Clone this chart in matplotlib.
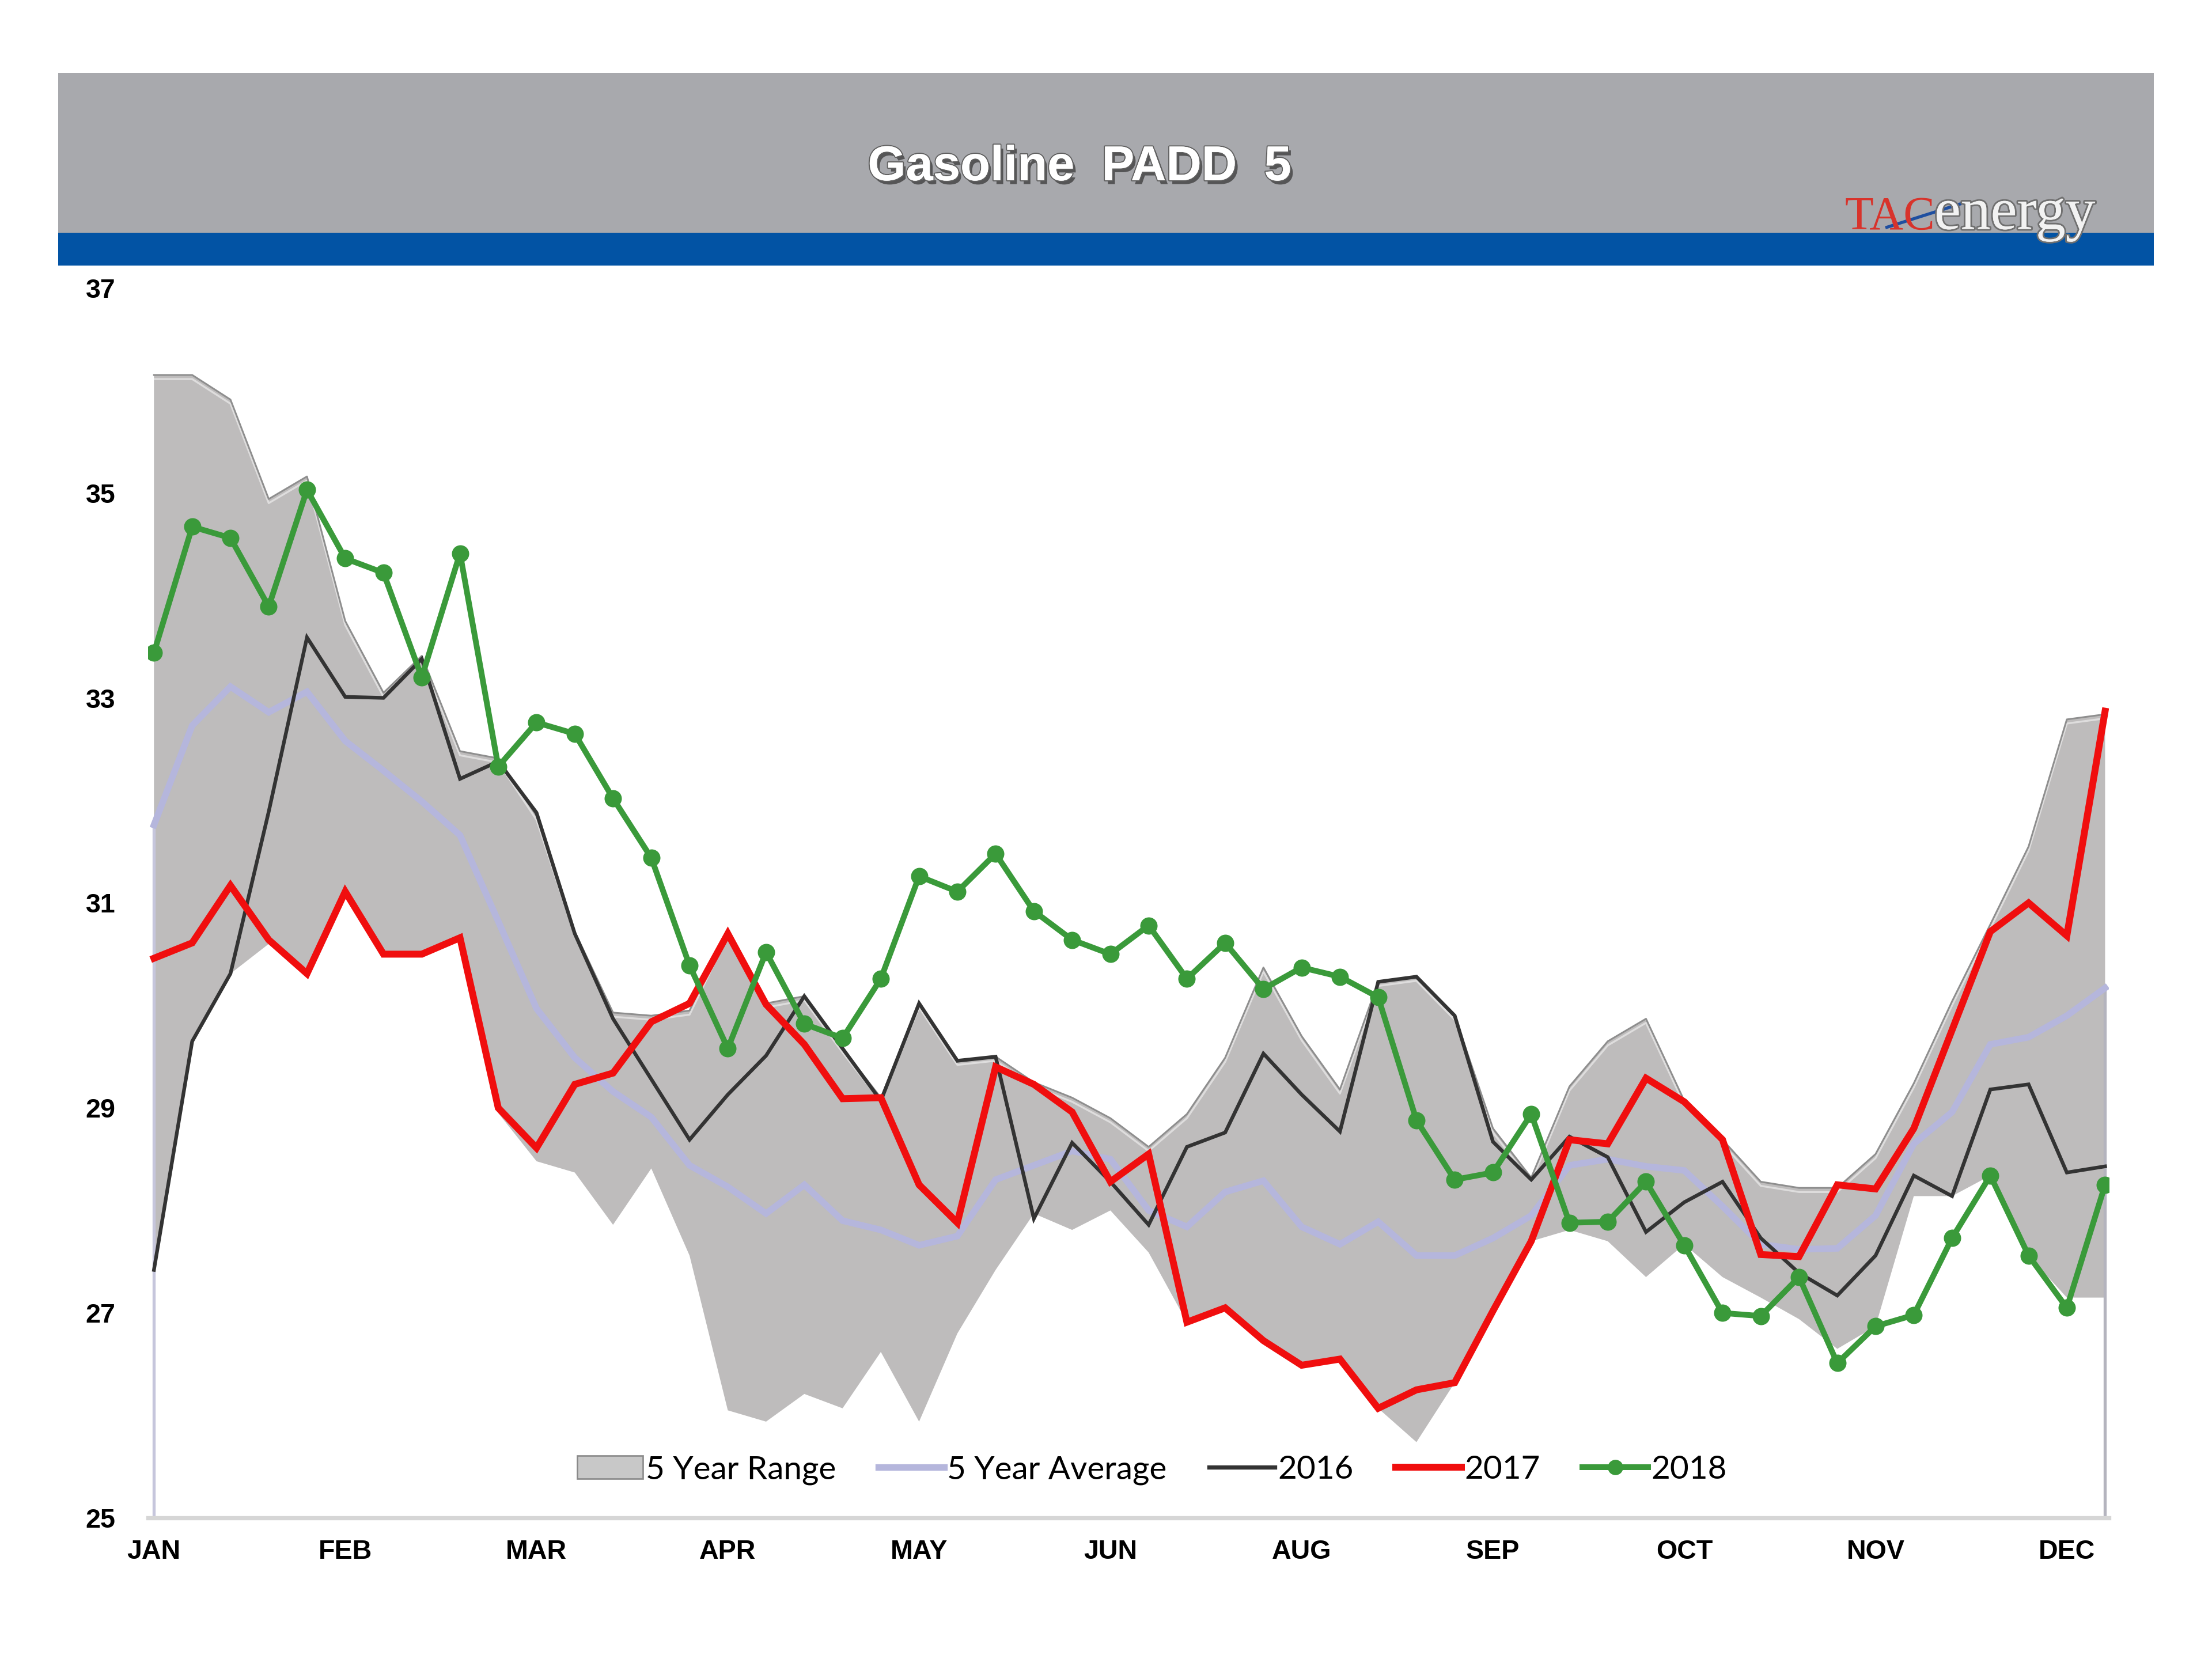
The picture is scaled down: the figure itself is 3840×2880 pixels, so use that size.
import matplotlib.pyplot as plt
import matplotlib.patheffects as pe
from matplotlib.patches import Rectangle, Patch
from matplotlib.lines import Line2D
import numpy as np

# weekly values, 52 weeks
range_upper = [36.15, 36.15, 35.91, 34.94, 35.16, 33.75, 33.05, 33.41, 32.48, 32.41,
               31.85, 30.72, 29.93, 29.90, 29.95, 30.72, 30.02, 30.09, 29.58, 29.10,
               30.02, 29.46, 29.50, 29.25, 29.10, 28.90, 28.62, 28.94, 29.49, 30.37,
               29.70, 29.18, 30.23, 30.28, 29.90, 28.80, 28.32, 29.21, 29.65, 29.87,
               29.07, 28.69, 28.28, 28.22, 28.22, 28.55, 29.24, 30.04, 30.79, 31.55,
               32.79, 32.84]
range_lower = [27.42, 29.65, 30.31, 30.60, 30.31, 31.11, 30.50, 30.50, 30.66, 28.95,
               28.48, 28.37, 27.86, 28.41, 27.56, 26.05, 25.94, 26.21, 26.07, 26.62,
               25.94, 26.80, 27.42, 27.97, 27.81, 28.00, 27.59, 26.91, 27.05, 26.73,
               26.49, 26.55, 26.07, 25.74, 26.32, 27.02, 27.70, 27.81, 27.70, 27.35,
               27.67, 27.35, 27.15, 26.94, 26.65, 26.87, 28.14, 28.14, 28.34, 27.56,
               27.15, 27.15]
avg_5yr = [31.76, 32.73, 33.11, 32.86, 33.06, 32.58, 32.29, 31.99, 31.66, 30.82,
           29.97, 29.49, 29.16, 28.91, 28.44, 28.23, 27.97, 28.25, 27.90, 27.81,
           27.66, 27.75, 28.30, 28.44, 28.58, 28.50, 28.00, 27.84, 28.18, 28.29,
           27.84, 27.67, 27.89, 27.56, 27.56, 27.73, 27.95, 28.44, 28.50, 28.43,
           28.39, 28.04, 27.67, 27.62, 27.63, 27.95, 28.65, 28.96, 29.62, 29.69,
           29.90, 30.17]
y2016 = [27.42, 29.65, 30.31, 31.89, 33.59, 33.01, 33.00, 33.38, 32.21, 32.38,
         31.88, 30.70, 29.87, 29.28, 28.69, 29.13, 29.51, 30.09, 29.58, 29.07,
         30.02, 29.46, 29.50, 27.92, 28.66, 28.28, 27.86, 28.62, 28.76, 29.53,
         29.13, 28.77, 30.23, 30.28, 29.90, 28.67, 28.30, 28.72, 28.52, 27.79,
         28.08, 28.28, 27.73, 27.39, 27.17, 27.56, 28.34, 28.14, 29.18, 29.23,
         28.37, 28.43]
y2017 = [30.46, 30.61, 31.17, 30.64, 30.31, 31.11, 30.50, 30.50, 30.66, 29.00,
         28.61, 29.23, 29.34, 29.84, 30.02, 30.70, 30.01, 29.62, 29.09, 29.10,
         28.25, 27.88, 29.40, 29.23, 28.96, 28.28, 28.55, 26.91, 27.05, 26.73,
         26.49, 26.55, 26.07, 26.25, 26.32, 27.02, 27.70, 28.69, 28.65, 29.29,
         29.06, 28.69, 27.57, 27.55, 28.25, 28.21, 28.80, 29.76, 30.72, 31.00,
         30.68, 32.87]
y2018 = [33.44, 34.67, 34.56, 33.89, 35.03, 34.36, 34.22, 33.20, 34.41, 32.33,
         32.76, 32.65, 32.02, 31.44, 30.39, 29.58, 30.52, 29.82, 29.68, 30.26,
         31.26, 31.11, 31.48, 30.92, 30.64, 30.50, 30.78, 30.26, 30.61, 30.16,
         30.37, 30.28, 30.08, 28.88, 28.30, 28.37, 28.94, 27.88, 27.89, 28.28,
         27.66, 27.00, 26.97, 27.35, 26.51, 26.87, 26.98, 27.73, 28.34, 27.56,
         27.05, 28.25]
month_labels = ['JAN', 'FEB', 'MAR', 'APR', 'MAY', 'JUN', 'AUG', 'SEP', 'OCT', 'NOV', 'DEC']
y_ticks = [25, 27, 29, 31, 33, 35, 37]

weeks = np.arange(len(y2018))

fig = plt.figure(figsize=(16, 12), dpi=240)
fig.patch.set_facecolor('white')

# header bands
fig.patches.append(Rectangle((0.0262, 0.8597), 0.9476, 0.0961, transform=fig.transFigure,
                             facecolor='#a8a9ad', edgecolor='none', zorder=0))
fig.patches.append(Rectangle((0.0262, 0.8401), 0.9476, 0.0196, transform=fig.transFigure,
                             facecolor='#0253a4', edgecolor='none', zorder=0))
fig.text(0.488, 0.899, 'Gasoline  PADD  5', color='white', fontsize=25.5, fontweight='bold',
         family='Liberation Sans', ha='center', va='center',
         path_effects=[pe.withSimplePatchShadow(offset=(1.5, -2), shadow_rgbFace='#404040', alpha=0.8),
                       pe.withStroke(linewidth=1.2, foreground='#606060'), pe.Normal()])
# logo
fig.text(0.834, 0.862, 'TAC', color='#d8332b', fontsize=24.5, family='Liberation Serif',
         ha='left', va='baseline')
fig.text(0.8745, 0.862, 'energy', color='#f2f2f2', fontsize=31, family='Liberation Serif',
         ha='left', va='baseline',
         path_effects=[pe.withStroke(linewidth=1.8, foreground='#707070'), pe.Normal()])
fig.add_artist(Line2D([0.853, 0.886], [0.863, 0.877], transform=fig.transFigure,
                      color='#1f4fa0', lw=1.6))

ax = fig.add_axes([0.067, 0.085, 0.8864, 0.7415])

ax.fill_between(weeks, range_lower, range_upper, facecolor='#bebcbc', edgecolor='none', zorder=1)
ax.plot(weeks, range_upper, color='#8e8e8e', lw=0.9, zorder=1.2)
ax.plot(weeks, np.array(range_upper) - 0.04, color='white', lw=1.0, alpha=0.5, zorder=1.1)
ax.vlines([weeks[0]], 25, avg_5yr[0], color='#c6c6dc', lw=1.6, zorder=1.5)
ax.vlines([weeks[-1]], 25, avg_5yr[-1], color='#b4b4be', lw=1.6, zorder=1.5)

ax.plot(weeks, avg_5yr, color='#b5b6dc', lw=3.4, solid_joinstyle='miter', zorder=2)
ax.plot(weeks, y2016, color='#333333', lw=1.9, solid_joinstyle='miter', zorder=3)
ax.plot(weeks, y2017, color='#f00e0e', lw=3.6, solid_joinstyle='miter', zorder=4)
ax.plot(weeks, y2018, color='#3a9a3a', lw=3.0, marker='o', markersize=8, zorder=5)

ax.set_xlim(-0.15, 51.1)
ax.set_ylim(25, 37)
ax.set_yticks(y_ticks)
ax.set_xticks(weeks[::5])
ax.set_xticklabels(month_labels)
for lab in ax.get_xticklabels() + ax.get_yticklabels():
    lab.set_fontweight('bold')
    lab.set_family('Liberation Sans')
    lab.set_fontsize(14)
ax.tick_params(axis='both', length=0)
ax.tick_params(axis='y', pad=17)
ax.tick_params(axis='x', pad=11)
for s in ['top', 'right', 'left']:
    ax.spines[s].set_visible(False)
ax.spines['bottom'].set_color('#d6d6d6')
ax.spines['bottom'].set_linewidth(2.2)

handles = [Patch(facecolor='#c8c8c8', edgecolor='#8a8a8a', lw=0.8),
           Line2D([], [], color='#b5b6dc', lw=3.4),
           Line2D([], [], color='#333333', lw=2.2),
           Line2D([], [], color='#f00e0e', lw=3.6),
           Line2D([], [], color='#3a9a3a', lw=3.0, marker='o', markersize=7)]
names = ['5 Year Range', '5 Year Average', '2016', '2017', '2018']
ax.legend(handles, names, loc='center', bbox_to_anchor=(0.512, 0.039), ncol=5, frameon=False,
          prop={'family': 'Lato', 'size': 17}, handlelength=2.0, handletextpad=0.1,
          columnspacing=1.3, handleheight=0.7)

fig.savefig('out.png', dpi=240, facecolor='white')
